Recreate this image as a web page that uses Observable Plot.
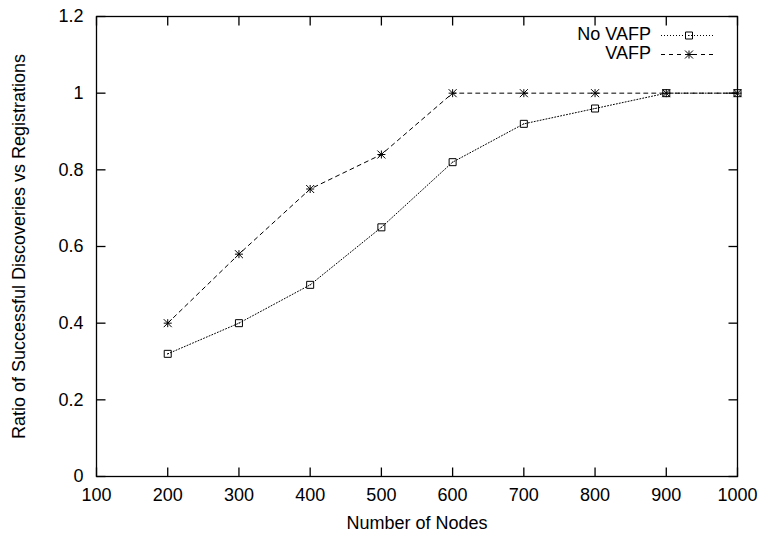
<!DOCTYPE html>
<html><head><meta charset="utf-8">
<script src="https://cdn.jsdelivr.net/npm/d3@7"></script>
<script src="https://cdn.jsdelivr.net/npm/@observablehq/plot@0.6"></script>
<style>
body{margin:0;background:#fff;font-family:"Liberation Sans",Arial,sans-serif;}
#wrap{position:relative;width:765px;height:535px;}
#legend{position:absolute;left:540px;top:25px;width:174px;font-size:18px;color:#000;}
#legend .row{display:flex;align-items:center;justify-content:flex-end;height:19px;}
#legend .lbl{line-height:19px;height:19px;}
#legend svg{margin-left:10px;display:block;}
</style></head><body><div id="wrap"><div id="legend"></div></div>
<script>
const nodes = [200, 300, 400, 500, 600, 700, 800, 900, 1000];
const noVafp = [0.32, 0.40, 0.50, 0.65, 0.82, 0.92, 0.96, 1.0, 1.0];
const vafp = [0.40, 0.58, 0.75, 0.84, 1.0, 1.0, 1.0, 1.0, 1.0];
const seriesNames = ["No VAFP", "VAFP"];
const xTicks = [100, 200, 300, 400, 500, 600, 700, 800, 900, 1000];
const yTicks = [0, 0.2, 0.4, 0.6, 0.8, 1, 1.2];
const xLabel = "Number of Nodes";
const yLabel = "Ratio of Successful Discoveries vs Registrations";

const squareSym = {draw(c) {const s = 3.5; c.moveTo(-s, -s); c.lineTo(s, -s); c.lineTo(s, s); c.lineTo(-s, s); c.closePath(); c.moveTo(-0.5, 0); c.lineTo(0.5, 0);}};
const starSym = {draw(c) {const s = 4; c.moveTo(-s, 0); c.lineTo(s, 0); c.moveTo(0, -s); c.lineTo(0, s); c.moveTo(-s, -s); c.lineTo(s, s); c.moveTo(-s, s); c.lineTo(s, -s);}};
// inward tick glyphs (length in px)
const TL = 9;
const tickUp = {draw(c) {c.moveTo(0, 0); c.lineTo(0, -TL);}};
const tickDown = {draw(c) {c.moveTo(0, 0); c.lineTo(0, TL);}};
const tickRight = {draw(c) {c.moveTo(0, 0); c.lineTo(TL, 0);}};
const tickLeft = {draw(c) {c.moveTo(0, 0); c.lineTo(-TL, 0);}};

const dA = nodes.map((n, i) => ({x: n, y: noVafp[i]}));
const dB = nodes.map((n, i) => ({x: n, y: vafp[i]}));
const xt = xTicks.map(v => ({v}));
const yt = yTicks.map(v => ({v}));
const fs = 18;
const fmt = d => String(d);

const chart = Plot.plot({
  width: 765, height: 535,
  marginLeft: 96, marginRight: 28, marginTop: 16, marginBottom: 59,
  style: {fontFamily: "Liberation Sans, Arial, sans-serif", fontSize: fs + "px", color: "#000", background: "#fff"},
  x: {domain: [100, 1000]},
  y: {domain: [0, 1.2]},
  marks: [
    Plot.axisX({ticks: xTicks, tickFormat: fmt, tickSize: 0, tickPadding: 12, fontSize: fs, label: xLabel, labelAnchor: "center", labelOffset: 52, labelArrow: "none"}),
    Plot.axisY({ticks: yTicks, tickFormat: fmt, tickSize: 0, tickPadding: 13, fontSize: fs, label: yLabel, labelAnchor: "center", labelOffset: 84, labelArrow: "none"}),
    Plot.frame({stroke: "#000", fill: "none", strokeWidth: 1.3}),
    Plot.dot(xt, {x: "v", frameAnchor: "bottom", symbol: tickUp, stroke: "#000", fill: "none", strokeWidth: 1.3}),
    Plot.dot(xt, {x: "v", frameAnchor: "top", symbol: tickDown, stroke: "#000", fill: "none", strokeWidth: 1.3}),
    Plot.dot(yt, {y: "v", frameAnchor: "left", symbol: tickRight, stroke: "#000", fill: "none", strokeWidth: 1.3}),
    Plot.dot(yt, {y: "v", frameAnchor: "right", symbol: tickLeft, stroke: "#000", fill: "none", strokeWidth: 1.3}),
    Plot.line(dA, {x: "x", y: "y", stroke: "#000", strokeWidth: 1, strokeDasharray: "1,2"}),
    Plot.line(dB, {x: "x", y: "y", stroke: "#000", strokeWidth: 1, strokeDasharray: "4,4"}),
    Plot.dot(dA, {x: "x", y: "y", symbol: squareSym, stroke: "#000", fill: "none", strokeWidth: 1}),
    Plot.dot(dB, {x: "x", y: "y", symbol: starSym, stroke: "#000", fill: "none", strokeWidth: 1})
  ]
});
document.getElementById("wrap").appendChild(chart);

const legend = document.getElementById("legend");
const legendDefs = [
  {name: seriesNames[0], dash: "1,2", sym: "sq"},
  {name: seriesNames[1], dash: "4,4", sym: "star"}
];
const ns = "http://www.w3.org/2000/svg";
for (const d of legendDefs) {
  const row = document.createElement("div");
  row.className = "row";
  const t = document.createElement("div");
  t.className = "lbl";
  t.textContent = d.name;
  row.appendChild(t);
  const s = document.createElementNS(ns, "svg");
  s.setAttribute("width", 53); s.setAttribute("height", 19);
  const ln = document.createElementNS(ns, "line");
  ln.setAttribute("x1", 0); ln.setAttribute("x2", 53); ln.setAttribute("y1", 10.5); ln.setAttribute("y2", 10.5);
  ln.setAttribute("stroke", "#000"); ln.setAttribute("stroke-dasharray", d.dash);
  s.appendChild(ln);
  const p = document.createElementNS(ns, "path");
  p.setAttribute("d", d.sym === "sq" ? "M24.5,7v7h7v-7zM27.5,10.5h1" : "M24,10.5h8M28,6.5v8M24,6.5l8,8M24,14.5l8,-8");
  p.setAttribute("stroke", "#000"); p.setAttribute("fill", "none");
  s.appendChild(p);
  row.appendChild(s);
  legend.appendChild(row);
}
</script>
</body></html>
